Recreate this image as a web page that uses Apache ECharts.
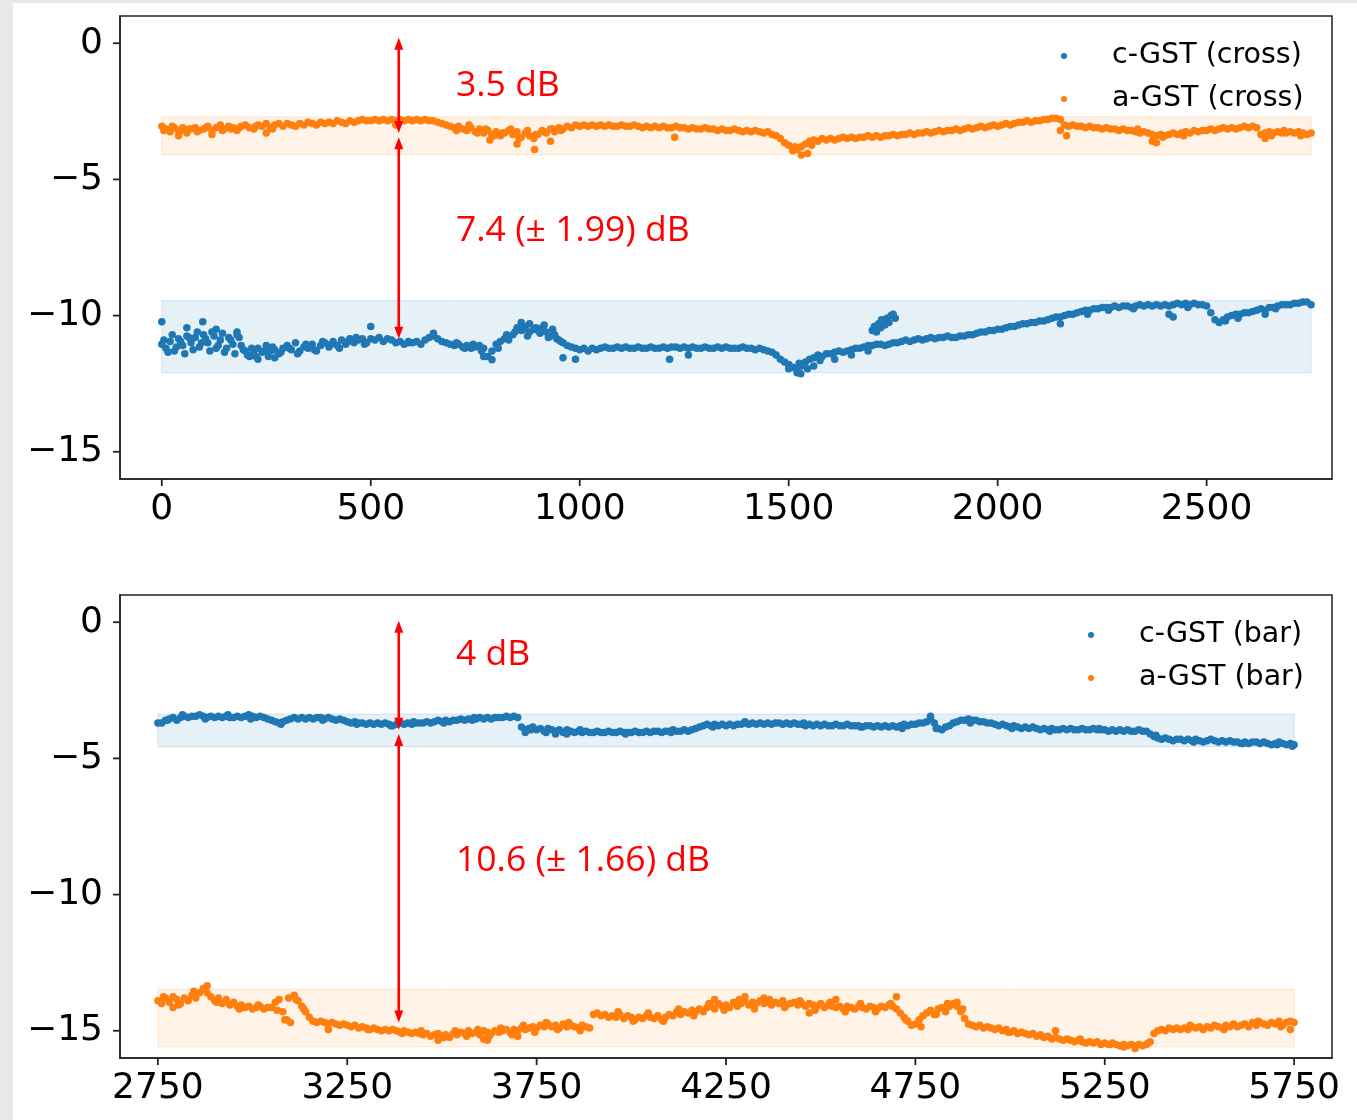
<!DOCTYPE html>
<html>
<head>
<meta charset="utf-8">
<script src="https://cdn.jsdelivr.net/npm/echarts@6/dist/echarts.min.js"></script>
<style>
  html, body { margin: 0; padding: 0; background: #e8e8e8; }
  #sheet { position: absolute; left: 13px; top: 3px; width: 1344px; height: 1117px; background: #ffffff; }
  #chart { position: absolute; left: 0; top: 0; width: 1357px; height: 1120px; }
</style>
</head>
<body>
<div id="sheet"></div>
<div id="chart"></div>
<script>
// ---- sampling of the two measurement runs (sample index, step 10) ----
const crossStart = 0;
const barStart = 2750;
const sampleStep = 10;

// transmission (dB), cross port: c-GST and a-GST
const crossC = [
  -11.05, -11.2, -10.95, -11.3, -10.85, -11.1, -10.75, -11.0, -10.8, -11.15,
  -10.7, -11.0, -10.6, -11.2, -10.9, -11.35, -10.8, -11.05, -10.7, -11.1,
  -11.3, -11.5, -11.4, -11.2, -11.35, -11.1, -11.3, -11.25, -11.4, -11.2,
  -11.1, -11.25, -11.0, -11.3, -11.15, -11.2, -11.05, -11.3, -11.1, -11.0,
  -11.15, -10.95, -11.1, -10.9, -11.05, -10.85, -11.0, -10.9, -10.85, -11.0,
  -10.85, -10.9, -10.8, -10.95, -10.85, -10.9, -11.0, -10.95, -11.05, -11.0,
  -11.0, -10.95, -11.05, -10.9, -10.8, -10.75, -10.85, -10.95, -11.0, -11.05,
  -11.1, -11.05, -11.15, -11.1, -11.2, -11.15, -11.1, -11.2, -11.5, -11.3,
  -11.05, -10.95, -10.85, -10.9, -10.7, -10.45, -10.55, -10.4, -10.6, -10.5,
  -10.55, -10.45, -10.6, -10.75, -10.7, -10.9, -11.0, -11.1, -11.15, -11.2,
  -11.25, -11.2, -11.3, -11.2, -11.25, -11.2, -11.15, -11.2, -11.2, -11.15,
  -11.2, -11.15, -11.2, -11.2, -11.15, -11.2, -11.2, -11.15, -11.2, -11.2,
  -11.15, -11.2, -11.15, -11.15, -11.2, -11.15, -11.2, -11.15, -11.2, -11.2,
  -11.15, -11.2, -11.2, -11.15, -11.2, -11.15, -11.2, -11.2, -11.2, -11.15,
  -11.2, -11.2, -11.25, -11.2, -11.25, -11.3, -11.35, -11.45, -11.6, -11.7,
  -11.8, -11.9, -12.0, -11.85, -11.7, -11.6, -11.55, -11.45, -11.5, -11.4,
  -11.4, -11.35, -11.3, -11.35, -11.3, -11.25, -11.2, -11.2, -11.15, -11.1,
  -11.1, -11.05, -11.05, -11.1, -11.05, -11.0, -11.0, -10.95, -10.9, -10.95,
  -10.9, -10.85, -10.9, -10.85, -10.8, -10.85, -10.8, -10.8, -10.75, -10.8,
  -10.8, -10.75, -10.75, -10.7, -10.7, -10.65, -10.6, -10.6, -10.55, -10.55,
  -10.5, -10.5, -10.45, -10.4, -10.4, -10.35, -10.3, -10.3, -10.25, -10.25,
  -10.2, -10.2, -10.15, -10.1, -10.05, -10.05, -10.0, -9.95, -9.95, -9.9,
  -9.85, -9.8, -9.8, -9.75, -9.75, -9.7, -9.7, -9.7, -9.65, -9.7,
  -9.65, -9.65, -9.7, -9.65, -9.6, -9.65, -9.6, -9.65, -9.6, -9.65,
  -9.6, -9.65, -9.6, -9.55, -9.6, -9.55, -9.6, -9.55, -9.6, -9.6,
  -9.65, -9.9, -10.15, -10.25, -10.15, -10.05, -10.0, -9.95, -9.95, -9.9,
  -9.9, -9.85, -9.8, -9.75, -9.8, -9.7, -9.7, -9.65, -9.6, -9.6,
  -9.6, -9.55, -9.55, -9.5, -9.5, -9.6
];
const crossCExtra = [
  [0, -10.23], [98, -10.23], [60, -10.45], [130, -10.5], [180, -10.6], [230, -11.6],
  [270, -11.55], [500, -10.4], [590, -10.95], [650, -10.65], [770, -11.5], [790, -11.62],
  [860, -10.25], [880, -10.3], [960, -11.55], [990, -11.6], [1215, -11.6], [1260, -11.45],
  [1500, -11.95], [1520, -12.1], [1529, -12.14], [1560, -11.85], [1610, -11.6], [1650, -11.45],
  [1690, -11.3], [2150, -10.3], [2410, -9.95], [2420, -10.05], [2640, -9.95],
  [1700, -10.55], [1705, -10.4], [1710, -10.6], [1712, -10.5], [1715, -10.3], [1720, -10.45],
  [1722, -10.15], [1725, -10.2], [1730, -10.35], [1735, -10.1], [1740, -10.25], [1745, -10.0],
  [1750, -9.95], [1755, -10.1],
  [5, -10.9], [15, -11.35], [25, -10.7], [35, -11.15], [45, -10.95], [55, -11.4], [65, -10.8],
  [75, -11.25], [85, -10.6], [95, -11.0], [105, -10.85], [115, -11.3], [125, -10.75], [135, -11.1],
  [145, -10.65], [155, -11.2], [165, -10.9], [175, -11.4], [185, -10.8], [195, -11.25], [205, -11.45],
  [215, -11.2], [225, -11.5], [245, -11.3], [255, -11.5], [265, -11.15], [285, -11.35], [305, -11.2],
  [325, -11.4], [345, -11.05], [365, -11.25], [385, -10.95], [405, -11.05], [425, -11.2], [445, -10.95],
  [465, -10.8], [485, -11.05], [705, -11.0], [725, -11.2], [745, -11.05], [765, -11.3], [805, -11.2],
  [825, -10.7], [845, -10.6], [865, -10.5], [875, -10.75], [895, -10.45], [905, -10.65], [915, -10.35],
  [925, -10.8], [935, -10.5], [945, -10.85], [955, -10.95], [1525, -11.75], [1545, -11.95], [1575, -11.65],
  [2215, -9.95], [2265, -9.8], [2325, -9.75], [2455, -9.7], [2545, -10.2], [2575, -10.1], [2665, -9.75]
];
const crossA = [
  -3.05, -3.15, -3.25, -3.1, -3.2, -3.1, -3.3, -3.15, -3.1, -3.2,
  -3.15, -3.05, -3.2, -3.1, -3.0, -3.15, -3.05, -3.1, -3.2, -3.05,
  -3.0, -3.1, -3.15, -3.0, -3.05, -2.95, -3.1, -3.0, -2.95, -3.05,
  -2.95, -3.0, -3.05, -2.95, -3.0, -2.9, -2.95, -3.0, -2.9, -2.95,
  -2.9, -2.95, -2.85, -2.9, -2.95, -2.85, -2.9, -2.85, -2.8, -2.85,
  -2.85, -2.8, -2.85, -2.8, -2.85, -2.8, -2.85, -2.8, -2.85, -2.8,
  -2.85, -2.8, -2.85, -2.8, -2.85, -2.85, -2.9, -2.95, -3.0, -3.05,
  -3.1, -3.05, -3.15, -3.2, -3.1, -3.25, -3.15, -3.3, -3.2, -3.35,
  -3.25, -3.4, -3.3, -3.2, -3.35, -3.25, -3.45, -3.3, -3.4, -3.5,
  -3.35, -3.2, -3.3, -3.15, -3.25, -3.1, -3.15, -3.05, -3.1, -3.0,
  -3.05, -3.0, -3.05, -3.0, -3.05, -3.0, -3.05, -3.0, -3.05, -3.05,
  -3.0, -3.05, -3.05, -3.0, -3.05, -3.1, -3.05, -3.1, -3.05, -3.1,
  -3.05, -3.1, -3.1, -3.05, -3.1, -3.1, -3.15, -3.1, -3.15, -3.15,
  -3.1, -3.15, -3.15, -3.2, -3.15, -3.2, -3.2, -3.15, -3.2, -3.25,
  -3.2, -3.25, -3.2, -3.25, -3.3, -3.25, -3.35, -3.4, -3.5, -3.65,
  -3.75, -3.85, -3.9, -3.8, -3.7, -3.6, -3.55, -3.6, -3.5, -3.55,
  -3.5, -3.55, -3.5, -3.45, -3.5, -3.45, -3.5, -3.45, -3.45, -3.4,
  -3.45, -3.4, -3.45, -3.4, -3.4, -3.35, -3.4, -3.35, -3.35, -3.3,
  -3.35, -3.3, -3.3, -3.25, -3.3, -3.25, -3.2, -3.25, -3.2, -3.2,
  -3.15, -3.2, -3.15, -3.1, -3.15, -3.1, -3.05, -3.1, -3.05, -3.0,
  -3.05, -3.0, -2.95, -3.0, -2.95, -2.9, -2.9, -2.85, -2.9, -2.85,
  -2.85, -2.8, -2.8, -2.75, -2.75, -2.8, -3.0, -3.05, -3.0, -3.05,
  -3.05, -3.1, -3.05, -3.1, -3.1, -3.15, -3.1, -3.15, -3.15, -3.2,
  -3.15, -3.2, -3.2, -3.25, -3.3, -3.25, -3.3, -3.35, -3.4, -3.35,
  -3.4, -3.35, -3.3, -3.35, -3.3, -3.25, -3.3, -3.2, -3.25, -3.2,
  -3.2, -3.15, -3.2, -3.15, -3.1, -3.15, -3.1, -3.15, -3.1, -3.05,
  -3.1, -3.05, -3.1, -3.35, -3.3, -3.25, -3.3, -3.25, -3.3, -3.3,
  -3.25, -3.3, -3.25, -3.3, -3.35, -3.3
];
const crossAExtra = [
  [40, -3.4], [120, -3.35], [250, -3.3], [560, -3.0], [785, -3.55], [850, -3.7],
  [892, -3.9], [930, -3.6], [1227, -3.45], [1510, -3.95], [1530, -4.1], [1545, -4.05],
  [2150, -3.2], [2165, -3.4], [2370, -3.6], [2380, -3.65], [2640, -3.5],
  [5, -3.2], [25, -3.05], [45, -3.2], [65, -3.15], [85, -3.25], [105, -3.1], [145, -3.2],
  [165, -3.15], [185, -3.1], [225, -3.05], [265, -3.15], [705, -3.2], [735, -3.0], [755, -3.3],
  [775, -3.15], [795, -3.4], [815, -3.3], [835, -3.15], [855, -3.5], [875, -3.2], [895, -3.35],
  [915, -3.25], [935, -3.15], [955, -3.2], [1515, -3.8], [1555, -3.75], [2335, -3.15],
  [2395, -3.45], [2445, -3.4], [2655, -3.4], [2685, -3.2], [2725, -3.4]
];

// transmission (dB), bar port: c-GST and a-GST
const barC = [
  -3.7, -3.7, -3.6, -3.55, -3.5, -3.6, -3.5, -3.45, -3.5, -3.45,
  -3.45, -3.4, -3.45, -3.5, -3.45, -3.5, -3.45, -3.5, -3.45, -3.5,
  -3.5, -3.45, -3.5, -3.45, -3.4, -3.45, -3.5, -3.45, -3.5, -3.55,
  -3.6, -3.65, -3.7, -3.65, -3.6, -3.55, -3.5, -3.55, -3.5, -3.55,
  -3.5, -3.55, -3.5, -3.5, -3.55, -3.5, -3.55, -3.6, -3.55, -3.6,
  -3.65, -3.7, -3.65, -3.7, -3.7, -3.75, -3.7, -3.75, -3.7, -3.75,
  -3.7, -3.75, -3.8, -3.75, -3.7, -3.75, -3.7, -3.75, -3.7, -3.7,
  -3.7, -3.65, -3.7, -3.65, -3.6, -3.65, -3.6, -3.65, -3.6, -3.6,
  -3.55, -3.6, -3.55, -3.6, -3.55, -3.5, -3.55, -3.5, -3.55, -3.5,
  -3.5, -3.5, -3.45, -3.5, -3.45, -3.5, -3.85, -3.95, -3.9, -3.85,
  -3.95, -3.9, -4.0, -3.9, -3.95, -4.0, -3.95, -4.05, -3.95, -4.0,
  -4.05, -4.0, -4.05, -4.0, -4.05, -4.05, -4.0, -4.05, -4.05, -4.0,
  -4.05, -4.05, -4.0, -4.05, -4.05, -4.05, -4.0, -4.05, -4.05, -4.0,
  -4.05, -4.0, -4.0, -4.05, -4.0, -4.0, -3.95, -4.0, -4.0, -3.95,
  -4.0, -3.95, -3.9, -3.85, -3.8, -3.75, -3.8, -3.75, -3.8, -3.75,
  -3.8, -3.75, -3.8, -3.75, -3.75, -3.7, -3.75, -3.7, -3.75, -3.7,
  -3.75, -3.7, -3.75, -3.7, -3.7, -3.75, -3.7, -3.75, -3.7, -3.75,
  -3.75, -3.8, -3.75, -3.8, -3.75, -3.8, -3.75, -3.8, -3.8, -3.75,
  -3.8, -3.8, -3.75, -3.8, -3.8, -3.8, -3.85, -3.8, -3.8, -3.85,
  -3.8, -3.85, -3.8, -3.85, -3.8, -3.85, -3.8, -3.75, -3.8, -3.75,
  -3.75, -3.7, -3.7, -3.65, -3.55, -3.7, -3.9, -3.95, -3.85, -3.8,
  -3.7, -3.65, -3.6, -3.6, -3.55, -3.6, -3.6, -3.65, -3.65, -3.7,
  -3.7, -3.75, -3.8, -3.75, -3.8, -3.85, -3.8, -3.85, -3.9, -3.85,
  -3.9, -3.85, -3.9, -3.95, -3.9, -3.95, -3.9, -3.95, -3.95, -3.9,
  -3.95, -3.9, -3.95, -3.95, -3.9, -3.95, -3.95, -3.9, -3.95, -3.95,
  -3.95, -4.0, -3.95, -4.0, -3.95, -4.0, -3.95, -4.0, -4.0, -3.95,
  -4.0, -4.0, -4.1, -4.2, -4.25, -4.3, -4.25, -4.3, -4.35, -4.3,
  -4.3, -4.35, -4.3, -4.35, -4.3, -4.35, -4.4, -4.35, -4.3, -4.35,
  -4.4, -4.35, -4.4, -4.35, -4.4, -4.4, -4.45, -4.4, -4.45, -4.4,
  -4.4, -4.45, -4.4, -4.45, -4.5, -4.45, -4.4, -4.45, -4.5, -4.45,
  -4.5
];
const barCExtra = [
  [3720, -4.05], [3800, -4.1], [3830, -4.1], [4300, -3.65], [4790, -3.45], [5745, -4.55],
  [2775, -3.6], [2815, -3.4], [2875, -3.55], [2935, -3.4], [2995, -3.55], [3075, -3.75],
  [3185, -3.6], [3275, -3.75], [3365, -3.8], [3425, -3.65], [3505, -3.7], [3585, -3.5],
  [3735, -3.95], [3775, -4.05], [3865, -3.95], [3985, -4.1], [4105, -4.05], [4215, -3.85],
  [4455, -3.7], [4605, -3.85], [4715, -3.9], [4805, -3.9], [4895, -3.7], [5005, -3.9],
  [5105, -4.0], [5235, -3.9], [5385, -4.15], [5485, -4.4], [5615, -4.45], [5705, -4.5]
];
const barA = [
  -13.9, -14.0, -13.8, -13.95, -13.75, -13.85, -14.0, -13.8, -13.9, -13.7,
  -13.8, -13.6, -13.45, -13.6, -13.75, -13.9, -13.8, -14.0, -13.85, -14.05,
  -13.95, -14.1, -14.05, -14.15, -14.1, -14.2, -14.15, -14.1, -14.2, -14.15,
  -14.15, -13.95, -13.85, -14.3, -14.6, -14.7, -13.7, -13.9, -14.1, -14.3,
  -14.5, -14.65, -14.7, -14.65, -14.7, -14.75, -14.7, -14.75, -14.8, -14.75,
  -14.8, -14.85, -14.8, -14.9, -14.85, -14.9, -14.95, -14.9, -14.95, -15.0,
  -14.95, -15.0, -14.95, -15.0, -15.05, -15.0, -15.05, -15.1, -15.05, -15.1,
  -15.15, -15.1, -15.2, -15.15, -15.1, -15.2, -15.15, -15.25, -15.1, -15.15,
  -15.05, -15.1, -15.0, -15.1, -15.05, -15.15, -15.0, -15.05, -15.1, -15.0,
  -15.05, -15.0, -14.95, -15.05, -14.95, -15.0, -14.9, -14.95, -14.9, -14.85,
  -14.9, -14.8, -14.85, -14.75, -14.85, -14.8, -14.9, -14.75, -14.85, -14.8,
  -14.85, -14.9, -14.8, -14.85, -14.9, -14.4, -14.35, -14.45, -14.4, -14.5,
  -14.45, -14.5, -14.4, -14.55, -14.45, -14.5, -14.6, -14.5, -14.55, -14.45,
  -14.5, -14.55, -14.45, -14.6, -14.5, -14.4, -14.45, -14.3, -14.4, -14.3,
  -14.35, -14.25, -14.3, -14.2, -14.3, -14.15, -14.1, -14.2, -14.0, -14.1,
  -14.05, -14.15, -13.95, -14.1, -14.0, -13.9, -14.05, -13.95, -14.0, -13.9,
  -14.0, -13.95, -14.05, -13.95, -14.0, -13.9, -14.05, -14.0, -13.95, -14.05,
  -14.0, -14.1, -14.0, -14.05, -14.1, -14.0, -14.15, -14.05, -14.1, -14.15,
  -14.1, -14.2, -14.1, -14.15, -14.2, -14.1, -14.15, -14.2, -14.1, -14.15,
  -14.2, -14.1, -14.15, -14.05, -14.1, -14.2, -14.35, -14.5, -14.65, -14.8,
  -14.75, -14.6, -14.45, -14.35, -14.25, -14.4, -14.2, -14.15, -14.3, -14.1,
  -14.0, -14.1, -14.3, -14.55, -14.75, -14.8, -14.85, -14.8, -14.9, -14.85,
  -14.9, -14.95, -14.9, -15.0, -14.95, -15.05, -15.0, -15.1, -15.05, -15.1,
  -15.15, -15.1, -15.2, -15.15, -15.25, -15.2, -15.3, -15.25, -15.3, -15.35,
  -15.3, -15.35, -15.4, -15.35, -15.4, -15.45, -15.4, -15.45, -15.4, -15.5,
  -15.45, -15.5, -15.45, -15.5, -15.55, -15.5, -15.55, -15.5, -15.55, -15.5,
  -15.55, -15.5, -15.4, -15.1, -15.0, -14.95, -15.0, -14.9, -14.95, -14.9,
  -14.95, -14.9, -14.95, -14.85, -14.9, -14.85, -14.95, -14.85, -14.9, -14.8,
  -14.85, -14.9, -14.8, -14.85, -14.75, -14.85, -14.8, -14.75, -14.85, -14.7,
  -14.8, -14.7, -14.75, -14.8, -14.7, -14.75, -14.65, -14.8, -14.7, -14.65,
  -14.7
];
const barAExtra = [
  [2790, -14.15], [2880, -13.35], [3200, -14.95], [3490, -15.35], [3610, -15.3], [3620, -15.35],
  [3700, -15.2], [4220, -13.85], [4300, -13.75], [4350, -13.8], [4470, -14.35], [4540, -13.85],
  [4700, -13.75], [4860, -13.95], [5120, -15.0], [5300, -15.6], [5330, -15.65], [5740, -14.95],
  [3505, -15.25], [3535, -15.0], [3565, -15.2], [3595, -14.95], [3625, -15.2], [3655, -14.9],
  [3685, -15.15], [3715, -14.8], [3745, -15.05], [3775, -14.7], [3805, -14.95], [3835, -14.7],
  [3865, -15.0], [3965, -14.3], [4005, -14.65], [4045, -14.35], [4085, -14.65], [4125, -14.2],
  [4165, -14.45], [4205, -14.0], [4245, -14.25], [4285, -13.85], [4325, -14.2], [4365, -13.85],
  [4405, -14.15], [4445, -13.9], [4485, -14.25], [4525, -13.95], [4565, -14.3], [4605, -14.0],
  [4645, -14.3], [4685, -14.0], [4725, -14.6], [4765, -14.85], [4805, -14.4], [4835, -14.0],
  [4875, -14.2], [2765, -13.75], [2805, -14.05], [2845, -13.55], [2905, -13.95], [2965, -14.2],
  [3015, -14.05], [3065, -14.25], [3085, -14.6], [3095, -13.8], [3115, -13.85], [3135, -14.2],
  [3305, -14.95], [3395, -15.1], [3445, -15.0], [4995, -15.05], [5085, -15.2], [5185, -15.3],
  [5265, -15.5], [5365, -15.45], [5475, -14.8], [5565, -14.95], [5655, -14.65], [5715, -14.85]
];

// shaded spread bands [low, high] in dB
const crossBandC = [-12.1, -9.45];
const crossBandA = [-4.1, -2.7];
const barBandC = [-4.57, -3.37];
const barBandA = [-15.59, -13.47];

// contrast annotations: arrow sample, start level, gaps (dB) and spread
const crossArrowAt = 567;
const crossArrowTop = 0.2;
const crossGaps = [3.5, 7.4];
const crossSpread = 1.99;
const barArrowAt = 3386;
const barArrowTop = 0.05;
const barGaps = [4, 10.6];
const barSpread = 1.66;
const arrowSplit = 0.15;

// axis ranges and ticks
const levelRange = [-16, 1];
const crossRange = [-100, 2800];
const barRange = [2650, 5850];
const crossTicks = [0, 500, 1000, 1500, 2000, 2500];
const barTicks = [2750, 3250, 3750, 4250, 4750, 5250, 5750];
const levelTicks = [0, -5, -10, -15];

const names = ['c-GST (cross)', 'a-GST (cross)', 'c-GST (bar)', 'a-GST (bar)'];
const BLUE = '#1f77b4';
const ORANGE = '#ff7f0e';
const INK = '#222';
const TICK_LEN = 7;

function toPoints(values, start) {
  return values.map((v, i) => [start + i * sampleStep, v]);
}
function arrowPair(at, top, gaps) {
  const end1 = top - gaps[0];
  const start2 = end1 - arrowSplit;
  return [[at, top, end1], [at, start2, start2 - gaps[1]]];
}

const tickFont = { fontFamily: 'DejaVu Sans', fontSize: 36, color: '#000' };
const minus = v => String(v).replace('-', '\u2212');
const spine = { color: INK, width: 1.5 };

function xAxisFor(grid, range, ticks) {
  return {
    gridIndex: grid, type: 'value', min: range[0], max: range[1], position: 'bottom',
    splitLine: { show: false },
    axisLine: { show: true, onZero: false, lineStyle: spine },
    axisTick: { show: false },
    axisLabel: Object.assign({ customValues: ticks, margin: 13, formatter: minus }, tickFont)
  };
}
function yAxisFor(grid) {
  return {
    gridIndex: grid, type: 'value', min: levelRange[0], max: levelRange[1], position: 'left',
    splitLine: { show: false },
    axisLine: { show: true, onZero: false, lineStyle: spine },
    axisTick: { show: false },
    axisLabel: Object.assign({ customValues: levelTicks, margin: 17, formatter: minus }, tickFont)
  };
}

function band(range, x0, x1, color) {
  return {
    silent: true,
    itemStyle: { color: color.fill, borderColor: color.edge, borderWidth: 1 },
    data: [[{ coord: [x0, range[1]] }, { coord: [x1, range[0]] }]]
  };
}
const blueBand = { fill: 'rgba(31,119,180,0.11)', edge: 'rgba(31,119,180,0.16)' };
const orangeBand = { fill: 'rgba(255,127,14,0.1)', edge: 'rgba(255,127,14,0.16)' };

function dots(name, grid, data, color, area) {
  const s = {
    name: name, type: 'scatter', xAxisIndex: grid, yAxisIndex: grid,
    data: data, symbolSize: 7.5, itemStyle: { color: color, opacity: 1 },
    emphasis: { disabled: true }, z: 3
  };
  if (area) s.markArea = area;
  return s;
}

function renderArrow(params, api) {
  const x = api.value(0);
  const p1 = api.coord([x, api.value(1)]);
  const p2 = api.coord([x, api.value(2)]);
  const hl = 12, hw = 4.5;
  return {
    type: 'group',
    children: [
      { type: 'line', shape: { x1: p1[0], y1: p1[1] + hl - 2, x2: p2[0], y2: p2[1] - hl + 2 },
        style: { stroke: '#ff0000', lineWidth: 2.6 } },
      { type: 'polygon', shape: { points: [[p1[0], p1[1]], [p1[0] - hw, p1[1] + hl], [p1[0] + hw, p1[1] + hl]] },
        style: { fill: '#ff0000' } },
      { type: 'polygon', shape: { points: [[p2[0], p2[1]], [p2[0] - hw, p2[1] - hl], [p2[0] + hw, p2[1] - hl]] },
        style: { fill: '#ff0000' } }
    ]
  };
}
function arrows(grid, data) {
  return {
    type: 'custom', xAxisIndex: grid, yAxisIndex: grid, data: data,
    encode: { x: 0, y: [1, 2] }, renderItem: renderArrow, silent: true, z: 10
  };
}

function legendFor(items, left, top) {
  return {
    data: items, orient: 'vertical', left: left, top: top,
    icon: 'circle', itemWidth: 6, itemHeight: 6, itemGap: 13,
    selectedMode: false,
    textStyle: { fontFamily: 'DejaVu Sans', fontSize: 28.5, color: '#000', lineHeight: 30, padding: [0, 0, 0, 40] }
  };
}

const noteFont = '35.5px "Open Sans"';
function note(text, x, y) {
  return { type: 'text', x: x, y: y, silent: true,
    style: { text: text, font: noteFont, fill: '#ff0000', verticalAlign: 'middle' } };
}
const notes = [
  note(crossGaps[0] + ' dB', 456, 86),
  note(crossGaps[1] + ' (\u00b1 ' + crossSpread + ') dB', 456, 231),
  note(barGaps[0] + ' dB', 456, 655),
  note(barGaps[1] + ' (\u00b1 ' + barSpread + ') dB', 456, 861)
];

const chart = echarts.init(document.getElementById('chart'), null, { renderer: 'canvas' });
chart.setOption({
  animation: false,
  backgroundColor: 'transparent',
  grid: [
    { left: 120, top: 16, width: 1212, height: 463, show: true, borderColor: INK, borderWidth: 1.5, backgroundColor: 'transparent' },
    { left: 120, top: 595, width: 1212, height: 463, show: true, borderColor: INK, borderWidth: 1.5, backgroundColor: 'transparent' }
  ],
  xAxis: [xAxisFor(0, crossRange, crossTicks), xAxisFor(1, barRange, barTicks)],
  yAxis: [yAxisFor(0), yAxisFor(1)],
  legend: [legendFor([names[0], names[1]], 1056, 36), legendFor([names[2], names[3]], 1083, 615)],
  series: [
    dots(names[0], 0, toPoints(crossC, crossStart), BLUE,
      band(crossBandC, crossStart, crossStart + (crossC.length - 1) * sampleStep, blueBand)),
    dots(names[0], 0, crossCExtra, BLUE),
    dots(names[1], 0, toPoints(crossA, crossStart), ORANGE,
      band(crossBandA, crossStart, crossStart + (crossA.length - 1) * sampleStep, orangeBand)),
    dots(names[1], 0, crossAExtra, ORANGE),
    dots(names[2], 1, toPoints(barC, barStart), BLUE,
      band(barBandC, barStart, barStart + (barC.length - 1) * sampleStep, blueBand)),
    dots(names[2], 1, barCExtra, BLUE),
    dots(names[3], 1, toPoints(barA, barStart), ORANGE,
      band(barBandA, barStart, barStart + (barA.length - 1) * sampleStep, orangeBand)),
    dots(names[3], 1, barAExtra, ORANGE),
    arrows(0, arrowPair(crossArrowAt, crossArrowTop, crossGaps)),
    arrows(1, arrowPair(barArrowAt, barArrowTop, barGaps))
  ],
  graphic: notes
});

// outward tick marks, positioned through each grid's axis scales
function tickLines(gridIndex, xRange, xTicks) {
  const out = [];
  const stroke = { stroke: INK, lineWidth: 1.8 };
  xTicks.forEach(v => {
    const p = chart.convertToPixel({ gridIndex: gridIndex }, [v, levelRange[0]]);
    out.push({ type: 'line', silent: true, z: 50,
      shape: { x1: p[0], y1: p[1], x2: p[0], y2: p[1] + TICK_LEN }, style: stroke });
  });
  levelTicks.forEach(v => {
    const p = chart.convertToPixel({ gridIndex: gridIndex }, [xRange[0], v]);
    out.push({ type: 'line', silent: true, z: 50,
      shape: { x1: p[0] - TICK_LEN, y1: p[1], x2: p[0], y2: p[1] }, style: stroke });
  });
  return out;
}
chart.setOption({
  graphic: notes.concat(tickLines(0, crossRange, crossTicks), tickLines(1, barRange, barTicks))
});
</script>
</body>
</html>
